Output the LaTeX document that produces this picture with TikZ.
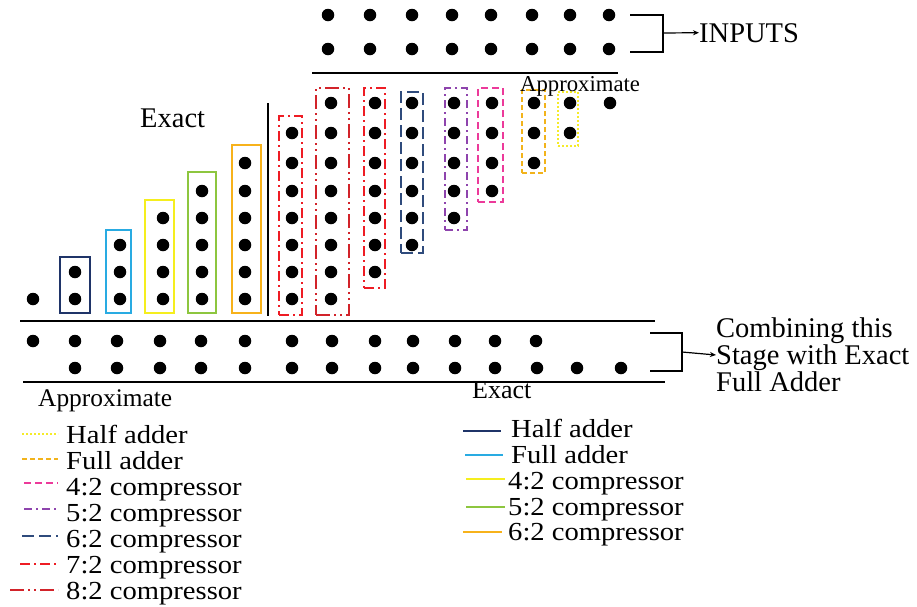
\documentclass[tikz,border=0pt]{standalone}
\usepackage{fontspec}
\setmainfont{Liberation Serif}
\newfontfamily\legfont{Liberation Serif}[FakeStretch=1.1]
\usetikzlibrary{arrows.meta}
\definecolor{exHA}{HTML}{1F3468}
\definecolor{exFA}{HTML}{29ABE2}
\definecolor{exFour}{HTML}{F5EE1E}
\definecolor{exFive}{HTML}{8DC63F}
\definecolor{exSix}{HTML}{F7B21B}
\definecolor{apSeven}{HTML}{EE1C24}
\definecolor{apEight}{HTML}{D2232A}
\definecolor{apSix}{HTML}{2F4B7C}
\definecolor{apFive}{HTML}{8E44AD}
\definecolor{apFour}{HTML}{EC3A9A}
\definecolor{apFA}{HTML}{F2B31B}
\definecolor{apHA}{HTML}{F5EB2A}
\tikzset{
  dot/.style={circle,fill=black,inner sep=0pt,minimum size=12.5pt},
  sbox/.style={draw,line width=2.8pt,inner sep=0pt},
  dbox/.style={draw,line width=2.8pt,inner sep=0pt},
  pSeven/.style={dash pattern=on 10pt off 4pt on 2pt off 4pt},
  pEight/.style={dash pattern=on 14pt off 4pt on 2pt off 4pt on 2pt off 4pt},
  pSix/.style={dash pattern=on 12pt off 5pt},
  pFive/.style={dash pattern=on 8pt off 4pt on 2pt off 4pt},
  pFour/.style={dash pattern=on 7pt off 4pt},
  pFA/.style={dash pattern=on 5pt off 3pt},
  pHA/.style={dash pattern=on 2pt off 2pt},
  rule/.style={line width=1.6pt},
  brk/.style={line width=1.2pt},
  arr/.style={brk,-{Stealth[length=6pt,width=5pt]}},
  big/.style={font=\fontsize{28.5}{27}\selectfont,inner sep=0pt},
  leg/.style={font=\legfont\fontsize{26}{26}\selectfont,inner sep=0pt,anchor=base west},
  legline/.style={line width=1.8pt},
}
\begin{document}
\begin{tikzpicture}[x=1pt,y=-1pt]
\useasboundingbox (0,0) rectangle (917,606);
% input dots
\foreach \x [count=\i] in {328,370,412,452,491,532,570,609}{
  \node[dot] (in1-\i) at (\x,15) {};
  \node[dot] (in2-\i) at (\x,49) {};
}
\draw[rule] (312,73) -- (618,73);
% inputs bracket
\coordinate (ibt) at (630,15);
\coordinate (ibb) at (630,52);
\coordinate (ibm) at (663,33);
\draw[brk] (ibt) -- (663,15) -- (663,52) -- (ibb);
\node[big,anchor=base west] (inputs) at (699,42) {INPUTS};
\draw[arr] (ibm) -- (inputs.west);
% partial product columns
\foreach \c/\x/\a/\b in {1/33/1/1,2/75/1/2,3/120/1/3,4/163/1/4,5/202/1/5,6/245/1/6,7/292/1/7,8/331/1/8,9/375/2/8,10/412/3/8,11/454/4/8,12/492/5/8,13/534/6/8,14/570/7/8,15/610/8/8}{
  \foreach \k in {\a,...,\b}{
    \pgfmathsetmacro\yy{{299,272,245,218,191,163,133,103}[\k-1]}
    \node[dot] (d\c-\k) at (\x,\yy) {};
  }
}
% exact boxes
\node[sbox,draw=exHA,minimum width=30pt,minimum height=56pt] (b2) at (75,285) {};
\node[sbox,draw=exFA,minimum width=25pt,minimum height=83pt] (b3) at (118.5,271.5) {};
\node[sbox,draw=exFour,minimum width=29pt,minimum height=113pt] (b4) at (159.5,256.5) {};
\node[sbox,draw=exFive,minimum width=28pt,minimum height=141pt] (b5) at (202,242.5) {};
\node[sbox,draw=exSix,minimum width=29pt,minimum height=168pt] (b6) at (246.5,229) {};
% approximate boxes
\node[dbox,draw=apSeven,pSeven,minimum width=23pt,minimum height=199pt] (b7) at (290.5,215.5) {};
\node[dbox,draw=apEight,pEight,minimum width=33pt,minimum height=227pt] (b8) at (332.5,201.5) {};
\node[dbox,draw=apSeven,pSeven,minimum width=21pt,minimum height=200pt] (b9) at (374.5,188) {};
\node[dbox,draw=apSix,pSix,minimum width=22pt,minimum height=161pt] (b10) at (412,172.5) {};
\node[dbox,draw=apFive,pFive,minimum width=22pt,minimum height=142pt] (b11) at (456,159) {};
\node[dbox,draw=apFour,pFour,minimum width=25pt,minimum height=114pt] (b12) at (490.5,145) {};
\node[dbox,draw=apFA,pFA,minimum width=23pt,minimum height=83pt] (b13) at (533.5,131.5) {};
\node[dbox,draw=apHA,pHA,minimum width=20pt,minimum height=54pt] (b14) at (568,119) {};
% separator
\draw[line width=2.2pt] (268,103) -- (268,316);
\node[big,anchor=base west] (exacttop) at (140,127) {Exact};
\node[font=\fontsize{22.7}{24}\selectfont,inner sep=0pt,anchor=base west] (approxtop) at (520,91) {Approximate};
% output rows
\draw[rule] (20,321) -- (655,321);
\draw[line width=2.4pt] (632,321) -- (655,321);
\foreach \x [count=\i] in {33,75,117,160,201,245,292,332,375,413,455,495,536}{
  \node[dot] (o1-\i) at (\x,341) {};
}
\foreach \x [count=\i] in {75,117,160,201,245,292,332,375,413,455,495,537,577,621}{
  \node[dot] (o2-\i) at (\x,368) {};
}
\draw[rule] (23,382) -- (665,382);
% output bracket
\coordinate (obt) at (650,333);
\coordinate (obb) at (650,371);
\coordinate (obm) at (682,352);
\draw[brk] (obt) -- (682,333) -- (682,371) -- (obb);
\node[big,anchor=west,align=left] (comb) at (716,355) {Combining this\\Stage with Exact\\Full Adder};
\draw[arr] (obm) -- (comb.west);
% labels
\node[font=\fontsize{25.4}{26}\selectfont,inner sep=0pt,anchor=base west] (approxbot) at (38,406) {Approximate};
\node[font=\fontsize{26}{26}\selectfont,inner sep=0pt,anchor=base west] (exactbot) at (472,398) {Exact};
% left legend
\draw[legline,apHA,pHA] (22,434) -- (58,434);
\node[leg] (l1) at (66,443) {Half adder};
\draw[legline,apFA,pFA] (22,459) -- (58,459);
\node[leg] (l2) at (66,469) {Full adder};
\draw[legline,apFour,pFour] (24,483) -- (58,483);
\node[leg] (l3) at (66,495) {4:2 compressor};
\draw[legline,apFive,pFive] (24,509) -- (58,509);
\node[leg] (l4) at (66,521) {5:2 compressor};
\draw[legline,apSix,pSix] (22,536) -- (58,536);
\node[leg] (l5) at (66,547) {6:2 compressor};
\draw[legline,apSeven,pSeven] (20,564) -- (58,564);
\node[leg] (l6) at (66,573) {7:2 compressor};
\draw[legline,apEight,pEight] (10,590) -- (58,590);
\node[leg] (l7) at (66,599) {8:2 compressor};
% right legend
\draw[legline,exHA] (463,431) -- (501,431);
\node[leg] (r1) at (511,437) {Half adder};
\draw[legline,exFA] (465,455) -- (503,455);
\node[leg] (r2) at (511,463) {Full adder};
\draw[legline,exFour] (466,479) -- (505,479);
\node[leg] (r3) at (508,489) {4:2 compressor};
\draw[legline,exFive] (466,507) -- (505,507);
\node[leg] (r4) at (508,515) {5:2 compressor};
\draw[legline,exSix] (463,532) -- (502,532);
\node[leg] (r5) at (508,540) {6:2 compressor};
\end{tikzpicture}
\end{document}
